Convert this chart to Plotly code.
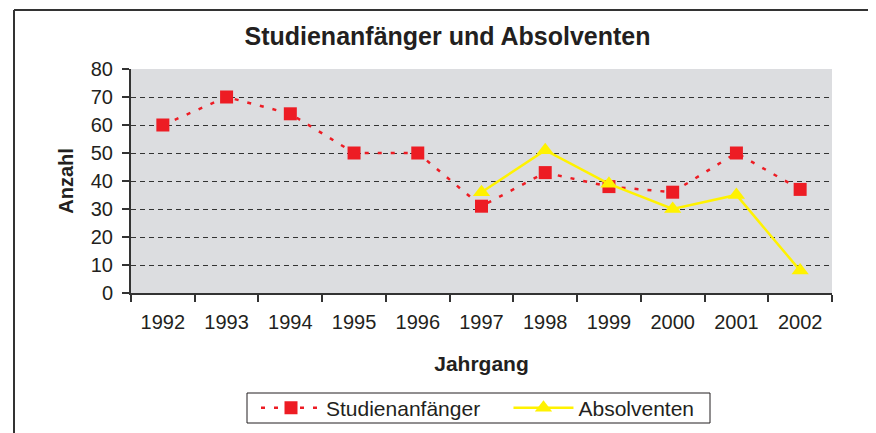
import plotly.graph_objects as go

years = ["1992", "1993", "1994", "1995", "1996", "1997", "1998", "1999", "2000", "2001", "2002"]
studienanfaenger = [60, 70, 64, 50, 50, 31, 43, 38, 36, 50, 37]
absolventen_years = ["1997", "1998", "1999", "2000", "2001", "2002"]
absolventen = [36, 51, 39, 30, 35, 8]
y_ticks = [0, 10, 20, 30, 40, 50, 60, 70, 80]

FONT = "Liberation Sans, Arial, sans-serif"
TXT = "#231f20"

# page has an 8px body offset, so figure coordinates = page coordinates - 8
OFF = 8
W, H = 876, 433
L, T = 131 - OFF, 69 - OFF
PW, PH = 832 - 131, 293 - 69
R, B = W - L - PW, H - T - PH

def px(xp):  # page x -> paper fraction
    return (xp - OFF - L) / PW

def py(yp):  # page y -> paper fraction
    return (T + PH - (yp - OFF)) / PH

fig = go.Figure()
fig.add_trace(go.Scatter(
    x=years, y=studienanfaenger, name="Studienanfänger    ",
    mode="lines+markers",
    line=dict(color="#ed1c24", width=2.5, dash="4px,9px"),
    marker=dict(symbol="square", size=13, color="#ed1c24"),
))
fig.add_trace(go.Scatter(
    x=absolventen_years, y=absolventen, name="Absolventen",
    mode="lines+markers",
    line=dict(color="#fff200", width=2.5),
    marker=dict(symbol="triangle-up", size=15, color="#fff200"),
))

fig.update_layout(
    width=W, height=H,
    margin=dict(l=L, r=R, t=T, b=B, autoexpand=False),
    paper_bgcolor="white",
    plot_bgcolor="#dcdde0",
    font=dict(family=FONT, size=20, color=TXT),
    title=dict(text="<b>Studienanfänger und Absolventen</b>", x=(447.5 - OFF) / W, xanchor="center",
               y=1 - (36 - OFF) / H, yanchor="middle", font=dict(size=25, family=FONT, color=TXT)),
    showlegend=True,
    legend=dict(orientation="h", x=px(478), xanchor="center", y=py(408), yanchor="middle",
                borderwidth=0, font=dict(size=21, family=FONT),
                bgcolor="rgba(0,0,0,0)", tracegroupgap=0, itemwidth=60),
    shapes=[
        dict(type="line", xref="paper", yref="paper",
             x0=px(14), x1=px(14), y0=py(445), y1=py(10),
             line=dict(color="#333", width=2), layer="below"),
        dict(type="line", xref="paper", yref="paper",
             x0=px(14), x1=px(890), y0=py(10), y1=py(10),
             line=dict(color="#333", width=2), layer="below"),
        dict(type="rect", xref="paper", yref="paper",
             x0=px(247), x1=px(710), y0=py(423), y1=py(393),
             line=dict(color=TXT, width=1), fillcolor="white", layer="below"),
    ],
)
fig.update_xaxes(
    categoryorder="array", categoryarray=years,
    tickson="boundaries", ticks="outside", ticklen=7, tickcolor="#333", tickwidth=1.5,
    showline=True, linecolor="#333", linewidth=2,
    showgrid=False, tickfont=dict(size=20), automargin=False, ticklabelstandoff=10,
    title=dict(text="<b>Jahrgang</b>", font=dict(size=21), standoff=24),
    range=[-0.5, 10.5],
)
fig.update_yaxes(
    range=[0, 80], tickvals=y_ticks, ticks="outside", ticklen=7, tickcolor="#333", tickwidth=1.5,
    showline=True, linecolor="#333", linewidth=2,
    showgrid=True, gridcolor="#333", griddash="5px,4px", gridwidth=1.2,
    zeroline=False, tickfont=dict(size=20), automargin=False, ticklabelstandoff=5,
    title=dict(text="<b>Anzahl</b>", font=dict(size=20), standoff=12),
)

fig.write_html("out.html")
